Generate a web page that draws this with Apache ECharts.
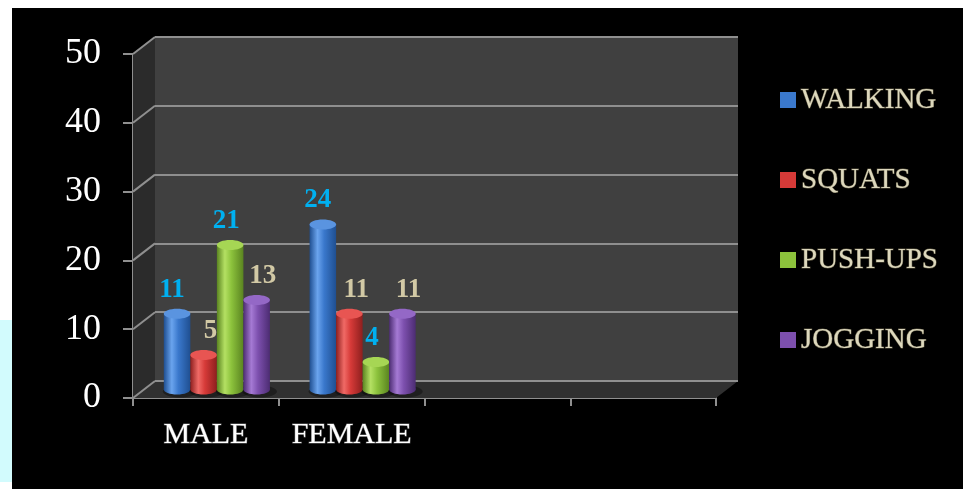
<!DOCTYPE html>
<html>
<head>
<meta charset="utf-8">
<script src="https://cdn.jsdelivr.net/npm/echarts@6/dist/echarts.min.js"></script>
<style>
  html, body { margin: 0; padding: 0; background: #ffffff; }
  #wrap { position: relative; width: 963px; height: 489px; overflow: hidden; background: #ffffff; }
  #strip { position: absolute; left: 0; top: 320px; width: 12px; height: 162px; background: #d2fbfd; }
  #panel { position: absolute; left: 12px; top: 8px; width: 951px; height: 481px; background: #000000; }
  #chart { position: absolute; left: 0; top: 0; width: 963px; height: 489px; }
</style>
</head>
<body>
<div id="wrap">
  <div id="strip"></div>
  <div id="panel"></div>
  <div id="chart"></div>
</div>
<script>
// ---- data ----
const categories = ['MALE', 'FEMALE', '', ''];
const seriesNames = ['WALKING', 'SQUATS', 'PUSH-UPS', 'JOGGING'];
const walking = [11, 24];
const squats = [5, 11];
const pushUps = [21, 4];
const jogging = [13, 11];
const yTicks = [0, 10, 20, 30, 40, 50];

const seriesValues = [walking, squats, pushUps, jogging];
const barColors = [
  { base: '#3a78cc', light: '#6aa4ee', dark: '#1f4f91', top: '#5a94e0' },
  { base: '#d63a38', light: '#f06a66', dark: '#8e1f1e', top: '#e85552' },
  { base: '#8cc23c', light: '#b4e063', dark: '#5a8420', top: '#a6d654' },
  { base: '#7d50ae', light: '#a57ad4', dark: '#4c2c72', top: '#9468c6' }
];
const labelColors = ['#00b0f0', '#d2c9a5', '#00b0f0', '#d2c9a5'];
const labelShift = [-5, 7, -4, 6];

const DX = 22, DY = -17;   // depth offset of back wall
const FRONT = { left: 133, top: 54, width: 583, height: 344 };
const gridLine = '#8f8f8f';

const chart = echarts.init(document.getElementById('chart'), null, { renderer: 'canvas' });

function gridFrom(g, ox, oy, extra) {
  return Object.assign({ left: g.left + ox, top: g.top + oy, width: g.width, height: g.height, containLabel: false }, extra || {});
}

function frameRender(params, api) {
  const cs = params.coordSys;
  const x0 = cs.x, y0 = cs.y, w = cs.width, h = cs.height;
  const yb = y0 + h;
  const children = [];
  // side wall
  children.push({ type: 'polygon', shape: { points: [[x0, yb], [x0, y0], [x0 + DX, y0 + DY], [x0 + DX, yb + DY]] }, style: { fill: '#2b2b2b' } });
  // floor
  children.push({ type: 'polygon', shape: { points: [[x0, yb], [x0 + w, yb], [x0 + w + DX, yb + DY], [x0 + DX, yb + DY]] }, style: { fill: '#303030' } });
  // diagonals on the side wall at each tick
  yTicks.forEach(function (v) {
    const p = api.coord([0, v]);
    children.push({ type: 'line', shape: { x1: x0, y1: p[1], x2: x0 + DX, y2: p[1] + DY }, style: { stroke: gridLine, lineWidth: 2 } });
  });
  // floor back edge
  children.push({ type: 'line', shape: { x1: x0 + DX, y1: yb + DY, x2: x0 + w + DX, y2: yb + DY }, style: { stroke: gridLine, lineWidth: 2 } });
  return { type: 'group', children: children };
}

function makeBarRender(si) {
  return function (params, api) {
    const cat = api.value(0);
    const val = api.value(1);
    const center = api.coord([cat, val]);
    const base = api.coord([cat, 0]);
    const band = api.size([1, 0])[0];
    const bw = band * 0.182;
    const cx = center[0] + (si - 1.5) * bw;
    const x = cx - bw / 2;
    const topY = center[1];
    const baseY = base[1];
    const ry = 5;
    const c = barColors[si];
    const grad = new echarts.graphic.LinearGradient(0, 0, 1, 0, [
      { offset: 0, color: c.dark },
      { offset: 0.3, color: c.light },
      { offset: 0.55, color: c.base },
      { offset: 1, color: c.dark }
    ]);
    return {
      type: 'group',
      children: [
        { type: 'ellipse', shape: { cx: cx + 3, cy: baseY + 2, rx: bw / 2 + 4, ry: ry + 1 }, style: { fill: 'rgba(0,0,0,0.35)' } },
        { type: 'ellipse', shape: { cx: cx, cy: baseY, rx: bw / 2, ry: ry }, style: { fill: grad } },
        { type: 'rect', shape: { x: x, y: topY, width: bw, height: baseY - topY }, style: { fill: grad } },
        { type: 'ellipse', shape: { cx: cx, cy: topY, rx: bw / 2, ry: ry }, style: { fill: c.top } },
        {
          type: 'text',
          style: {
            x: cx + labelShift[si], y: topY - 24,
            text: String(val),
            fill: labelColors[si],
            font: 'bold 27px "Liberation Serif", serif',
            align: 'center', verticalAlign: 'middle'
          }
        }
      ]
    };
  };
}

const xAxes = [0, 1, 2].map(function (i) {
  const ax = {
    type: 'category', data: categories, gridIndex: i,
    axisLine: { show: false }, axisTick: { show: false }, axisLabel: { show: false }, splitLine: { show: false }
  };
  if (i === 0) {
    ax.axisLine = { show: true, lineStyle: { color: gridLine, width: 2 } };
    ax.axisTick = { show: true, interval: 0, length: 8, lineStyle: { color: gridLine, width: 2 } };
    ax.axisLabel = {
      show: true, interval: 0, margin: 22, color: '#ffffff', fontSize: 30,
      fontFamily: '"Liberation Serif", serif', textBorderColor: '#6e6e6e', textBorderWidth: 1
    };
  }
  return ax;
});

const yAxes = [0, 1, 2].map(function (i) {
  const ax = {
    type: 'value', min: 0, max: 50, interval: 10, gridIndex: i,
    axisLine: { show: false }, axisTick: { show: false }, axisLabel: { show: false }, splitLine: { show: false }
  };
  if (i === 0) {
    ax.axisLine = { show: true, lineStyle: { color: gridLine, width: 2 } };
    ax.axisTick = { show: true, length: 10, lineStyle: { color: gridLine, width: 2 } };
    ax.axisLabel = { show: true, margin: 32, color: '#ffffff', fontSize: 36, fontFamily: '"Liberation Serif", serif' };
  }
  if (i === 1) {
    ax.splitLine = { show: true, lineStyle: { color: gridLine, width: 2 } };
  }
  return ax;
});

const series = [
  {
    type: 'custom', name: '__frame', xAxisIndex: 0, yAxisIndex: 0, silent: true, z: 1,
    renderItem: frameRender, data: [[0, 0]], legendHoverLink: false
  }
];
seriesNames.forEach(function (name, si) {
  series.push({
    type: 'custom', name: name, xAxisIndex: 2, yAxisIndex: 2, z: 3,
    itemStyle: { color: barColors[si].base },
    encode: { x: 0, y: 1 },
    renderItem: makeBarRender(si),
    data: seriesValues[si].map(function (v, ci) { return [ci, v]; })
  });
});

chart.setOption({
  backgroundColor: 'transparent',
  animation: false,
  grid: [
    gridFrom(FRONT, 0, 0),
    gridFrom(FRONT, DX, DY, { show: true, backgroundColor: '#404040', borderWidth: 0 }),
    gridFrom(FRONT, DX / 2, DY / 2)
  ],
  xAxis: xAxes,
  yAxis: yAxes,
  legend: {
    data: seriesNames,
    orient: 'vertical', left: 775, top: 80,
    itemWidth: 16, itemHeight: 16, itemGap: 50, icon: 'rect',
    textStyle: {
      color: '#ddd8bd', fontSize: 29, fontFamily: '"Liberation Serif", serif',
      textBorderColor: '#5d5742', textBorderWidth: 1
    }
  },
  series: series
});
</script>
</body>
</html>
